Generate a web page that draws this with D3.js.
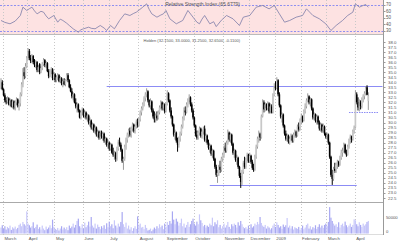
<!DOCTYPE html>
<html><head><meta charset="utf-8">
<script src="https://cdn.jsdelivr.net/npm/d3@7"></script>
<style>body{margin:0;background:#fff}svg{display:block}text{font-family:"Liberation Sans",Arial,sans-serif}</style>
</head><body><svg id="c" width="400" height="241"></svg>
<script>
const opens=[33.5,34.0,33.3,32.7,32.2,32.0,32.4,31.8,32.2,31.6,
32.1,31.5,32.0,32.3,31.7,31.9,32.8,33.8,35.0,34.6,
35.6,36.4,37.1,36.4,36.1,36.6,36.0,35.7,36.0,35.2,
35.8,35.0,35.4,35.8,36.2,35.7,35.9,35.1,34.6,35.1,
35.3,34.4,34.8,34.2,34.5,34.7,34.1,34.4,33.9,34.1,
33.8,34.2,34.7,34.2,33.5,33.1,32.6,32.8,32.0,31.6,
31.8,31.2,30.5,31.0,31.3,30.7,31.0,30.5,30.7,30.0,
30.2,29.5,29.8,29.2,29.5,28.8,29.1,28.5,29.0,28.6,
28.9,28.2,28.4,27.8,28.0,27.4,27.8,27.0,26.8,27.0,
26.4,27.4,28.1,27.8,27.3,26.2,26.4,27.6,28.3,28.8,
29.2,28.8,29.4,29.8,29.2,29.6,30.1,29.7,30.3,31.0,
31.4,31.8,32.4,32.8,33.1,32.2,31.7,32.1,31.2,30.6,
30.3,30.7,30.4,31.0,31.5,32.0,31.4,31.8,31.1,31.8,
32.9,32.2,31.2,30.6,29.8,28.8,29.0,28.2,27.8,28.4,
28.9,29.6,30.4,31.2,31.0,31.8,32.2,32.5,31.8,31.2,
30.5,29.7,28.8,28.5,29.0,29.4,28.7,29.1,29.4,28.3,
28.7,28.0,27.5,27.7,26.9,27.2,26.4,25.6,24.8,25.0,
25.6,25.3,26.4,26.8,27.5,27.2,28.0,29.0,28.3,28.8,
27.9,27.0,27.2,26.3,26.5,25.6,24.7,24.1,25.1,26.0,
25.6,26.3,26.8,26.2,26.7,26.1,25.5,25.3,26.6,27.6,
28.4,28.9,28.5,30.6,32.0,31.3,31.8,31.4,31.9,31.1,
31.6,31.0,32.7,33.6,33.4,34.2,32.8,31.7,30.6,30.8,
29.7,28.9,28.4,28.7,28.1,28.4,28.7,28.2,28.8,29.1,
28.7,29.6,29.3,30.2,30.6,30.2,31.1,31.6,32.2,32.6,
32.0,32.3,31.4,30.5,30.8,30.2,30.6,30.0,29.4,29.8,
29.2,29.6,28.9,28.6,28.8,28.0,26.6,24.8,24.4,25.4,
25.2,25.8,26.1,25.8,26.5,27.0,27.2,27.8,27.0,26.8,
27.6,28.2,28.6,28.3,29.1,29.5,32.8,32.0,31.5,32.0,
31.6,32.3,32.6,32.9,33.5,32.15];
const highs=[34.4,34.2,33.4,32.9,32.5,32.6,32.5,32.4,32.3,32.3,
32.2,32.2,32.5,32.4,32.2,33.0,34.0,35.4,35.5,35.9,
36.6,37.4,37.3,36.7,36.8,36.7,36.3,36.2,36.1,35.7,
35.9,35.6,36.0,36.4,36.3,36.1,36.0,35.3,35.3,35.5,
35.4,35.0,34.9,34.7,34.9,34.8,34.6,34.5,34.3,34.4,
34.3,34.9,34.9,34.3,33.8,33.4,33.0,32.9,32.4,32.0,
31.9,31.3,31.2,31.5,31.4,31.2,31.1,30.9,30.8,30.5,
30.3,30.0,29.9,29.7,29.6,29.3,29.2,29.2,29.2,29.1,
29.0,28.6,28.5,28.3,28.1,28.0,27.9,27.5,27.2,27.1,
27.6,28.3,28.5,28.0,27.4,26.6,27.8,28.5,29.0,29.4,
29.5,29.6,30.0,29.9,29.8,30.3,30.4,30.5,31.2,31.6,
32.0,32.6,33.0,33.4,33.2,32.3,32.4,32.2,31.4,31.1,
30.9,31.1,31.2,31.7,32.2,32.1,32.0,31.9,32.0,33.2,
33.0,32.3,31.5,30.7,29.9,29.3,29.1,28.5,28.6,29.1,
29.8,30.6,31.5,31.6,32.0,32.4,32.8,32.6,32.0,31.4,
30.6,29.8,29.2,29.2,29.6,29.5,29.3,29.6,29.7,28.9,
28.8,28.3,27.9,27.8,27.4,27.3,26.5,25.8,25.3,25.8,
26.2,26.6,27.0,27.7,28.0,28.2,29.3,29.1,29.0,28.9,
28.0,27.4,27.3,26.8,26.6,25.7,25.0,25.3,26.2,26.6,
26.5,27.0,26.9,27.0,26.8,26.3,25.9,26.8,27.8,28.6,
29.2,29.0,30.8,32.3,32.2,32.0,31.9,32.1,32.0,31.9,
31.8,32.9,33.9,34.1,34.5,34.3,33.0,31.8,31.0,30.9,
29.8,29.2,28.9,28.8,28.6,28.9,28.8,29.0,29.3,29.2,
29.8,30.0,30.4,30.9,30.7,31.3,31.9,32.4,32.9,32.7,
32.5,32.4,31.5,31.0,30.9,30.8,30.7,30.2,30.0,29.9,
29.9,29.7,29.0,29.0,28.9,28.1,26.7,25.3,25.6,26.0,
26.0,26.3,26.2,26.7,27.3,27.5,28.0,27.9,27.3,27.8,
28.4,28.8,28.7,29.3,29.7,33.2,33.0,32.5,32.3,32.2,
32.5,32.8,33.1,33.6,33.7,33.0];
const lows=[33.3,33.2,32.6,32.0,31.8,31.9,31.7,31.6,31.5,31.4,
31.3,31.2,31.7,31.5,31.2,31.6,32.6,33.5,34.3,34.4,
35.4,36.2,36.2,35.9,35.9,35.8,35.5,35.4,35.0,35.0,
34.8,34.9,35.2,35.6,35.5,35.4,35.0,34.4,34.5,34.8,
34.2,34.2,34.0,34.0,34.2,34.0,33.9,33.7,33.5,33.7,
33.6,34.1,34.0,33.4,33.0,32.4,32.2,31.9,31.4,31.0,
31.0,30.4,30.3,30.7,30.5,30.4,30.3,30.1,29.8,29.6,
29.3,29.2,29.0,28.9,28.6,28.5,28.3,28.3,28.4,28.2,
28.0,27.8,27.6,27.4,27.2,27.2,26.9,26.6,26.3,26.1,
26.2,27.2,27.6,27.1,26.0,25.3,26.2,27.3,28.0,28.5,
28.6,28.5,29.1,29.0,28.9,29.4,29.5,29.6,30.1,30.7,
31.2,31.6,32.1,32.5,32.0,31.5,31.3,31.0,30.4,30.0,
30.0,30.2,30.3,30.8,31.3,31.2,31.2,30.9,31.0,31.7,
32.0,31.0,30.4,29.6,28.6,28.3,28.0,27.1,27.5,28.1,
28.7,29.4,30.2,30.7,30.9,31.5,32.0,31.6,31.0,30.3,
29.5,28.6,28.3,28.3,28.7,28.5,28.4,28.8,28.1,28.0,
27.8,27.3,27.0,26.7,26.5,26.2,25.4,24.6,24.0,24.7,
25.0,25.1,26.1,26.5,27.0,27.0,27.8,28.1,28.0,27.7,
26.8,26.5,26.1,25.8,25.4,24.5,23.5,23.8,24.9,25.4,
25.4,26.0,26.0,26.0,25.9,25.3,25.1,25.2,26.4,27.4,
28.0,28.2,28.4,30.5,31.0,31.1,31.2,31.2,30.9,30.9,
30.9,30.9,32.6,33.2,33.3,32.6,31.5,30.4,30.0,29.5,
28.7,28.2,28.1,27.9,27.8,28.2,28.0,28.0,28.5,28.5,
28.6,29.1,29.2,29.8,30.0,30.1,30.9,31.4,32.0,31.8,
31.6,31.2,30.3,30.2,30.0,29.8,29.8,29.2,29.1,29.0,
29.0,28.7,28.4,28.3,27.8,26.4,24.6,23.8,24.2,25.0,
25.0,25.4,25.6,25.7,26.3,26.6,27.0,26.9,26.6,26.7,
27.4,27.9,28.0,28.2,28.9,29.4,31.8,31.2,31.1,31.3,
31.4,32.0,32.3,32.7,32.7,31.25];
const closes=[34.0,33.3,32.7,32.2,32.0,32.4,31.8,32.2,31.6,32.1,
31.5,32.0,32.3,31.7,31.9,32.8,33.8,35.0,34.6,35.6,
36.4,37.1,36.4,36.1,36.6,36.0,35.7,36.0,35.2,35.5,
35.0,35.4,35.8,36.2,35.7,35.9,35.1,34.6,35.1,35.3,
34.4,34.8,34.2,34.5,34.7,34.1,34.4,33.9,34.1,33.8,
34.2,34.7,34.2,33.5,33.1,32.6,32.8,32.0,31.6,31.8,
31.2,30.5,31.0,31.3,30.7,31.0,30.5,30.7,30.0,30.2,
29.5,29.8,29.2,29.5,28.8,29.1,28.5,29.0,28.6,28.9,
28.2,28.4,27.8,28.0,27.4,27.8,27.0,26.8,27.0,26.4,
27.4,28.1,27.8,27.3,26.2,26.4,27.6,28.3,28.8,29.2,
28.8,29.4,29.8,29.2,29.6,30.1,29.7,30.3,31.0,31.4,
31.8,32.4,32.8,33.1,32.2,31.7,32.1,31.2,30.6,30.3,
30.7,30.4,31.0,31.5,32.0,31.4,31.8,31.1,31.8,32.9,
32.2,31.2,30.6,29.8,28.8,29.0,28.2,27.8,28.4,28.9,
29.6,30.4,31.2,31.0,31.8,32.2,32.5,31.8,31.2,30.5,
29.7,28.8,28.5,29.0,29.4,28.7,29.1,29.4,28.3,28.7,
28.0,27.5,27.7,26.9,27.2,26.4,25.6,24.8,25.0,25.6,
25.3,26.4,26.8,27.5,27.2,28.0,29.0,28.3,28.8,27.9,
27.0,27.2,26.3,26.5,25.6,24.7,24.1,25.1,26.0,25.6,
26.3,26.8,26.2,26.7,26.1,25.5,25.3,26.6,27.6,28.4,
28.9,28.5,30.6,32.0,31.3,31.8,31.4,31.9,31.1,31.6,
31.0,32.7,33.6,33.4,34.2,32.8,31.7,30.6,30.8,29.7,
28.9,28.4,28.7,28.1,28.4,28.7,28.2,28.8,29.1,28.7,
29.6,29.3,30.2,30.6,30.2,31.1,31.6,32.2,32.6,32.0,
32.3,31.4,30.5,30.8,30.2,30.6,30.0,29.4,29.8,29.2,
29.6,28.9,28.6,28.8,28.0,26.6,24.8,24.4,25.4,25.2,
25.8,26.1,25.8,26.5,27.0,27.2,27.8,27.0,26.8,27.6,
28.2,28.6,28.3,29.1,29.5,32.8,32.0,31.5,32.0,31.6,
32.3,32.6,32.9,33.4,32.76,32.65];
const volumes=[18,25,14,22,12,20,16,24,11,19,
15,21,13,17,26,30,22,35,28,24,
67,30,25,18,22,34,16,20,27,14,
19,12,24,15,10,21,13,18,25,16,
42,20,14,11,17,9,15,22,12,18,
13,19,10,24,16,21,30,18,26,38,
45,22,17,28,15,33,19,25,36,21,
50,24,18,30,15,27,20,13,22,17,
25,14,31,19,36,22,28,16,40,24,
18,30,21,35,65,28,20,33,15,24,
12,19,8,16,22,14,52,25,30,18,
20,13,26,17,9,11,15,7,12,18,
14,22,16,28,19,24,13,30,20,35,
26,38,30,67,42,28,45,36,24,32,
45,22,30,18,26,35,20,28,38,45,
30,24,36,28,58,40,32,22,26,18,
24,20,30,25,48,22,34,28,40,19,
26,15,22,30,18,25,35,20,14,28,
22,30,26,18,34,24,38,28,20,16,
19,14,24,12,28,18,22,30,26,35,
28,50,32,24,20,26,15,22,18,12,
16,24,30,20,34,26,18,22,14,27,
20,25,47,18,24,15,22,12,19,16,
14,20,11,17,24,13,18,26,30,15,
22,12,19,16,25,14,20,28,18,24,
17,26,30,22,35,80,48,38,30,24,
28,20,34,18,26,30,22,36,25,19,
24,30,20,26,43,40,28,22,34,26,
20,30,24,28,35,38];
const rsiIdx=[0,3,7,11,15,17,20,22,24,26,28,31,33,35,37,41,44,46,48,51,53,56,60,62,64,68,70,73,77,80,82,85,88,92,96,100,103,105,110,113,115,117,121,124,126,128,131,136,141,145,149,152,154,156,158,162,165,167,171,175,180,185,188,193,198,203,208,212,216,220,224,229,234,237,240,242,247,252,256,260,265,269,273,275,278,281,283,285];
const rsiVal=[45.4,42.5,40.3,44.4,53.1,65.9,60.8,63.5,65.9,60.2,55.6,59.5,58.2,52.4,48,53.1,42.8,47.5,45.4,41.2,37.7,32.6,27.4,31.2,32.6,35.1,33.4,32.6,37.7,33.8,30,37.7,32.6,45.4,55.6,53.1,56.4,58.2,65.9,71,62.5,55.6,50.5,53.8,55.6,60.8,48,40.3,45.4,60.8,50.5,42.8,40.3,47.6,53.1,40.3,43.5,36,45.8,53.1,48,37.7,50.5,53.1,65.9,68.5,63.3,68.5,55.6,42.8,45.4,50.5,53.1,63.3,57.2,53.1,48,40.3,30,37.7,45.4,53.1,58.2,71,65.9,68.5,70,65.7];
const monthLabels=["March","April","May","June","July","August","September","October","November","December","2009","February","March","April"];
const monthIdx=[2,21,42,64,84,107,128,150,173,193,213,233,253,275];
const priceTicks=[22.5,23.0,23.5,24.0,24.5,25.0,25.5,26.0,26.5,27.0,27.5,28.0,28.5,29.0,29.5,30.0,30.5,31.0,31.5,32.0,32.5,33.0,33.5,34.0,34.5,35.0,35.5,36.0,36.5,37.0,37.5,38.0];
const rsiTicks=[30,40,50,60,70];
const rsiBands=[30,70];
const volTicks=[0,50000];
const levelPrice=[33.6,23.8,31.05];
const levelStart=[82,162,270];
const levelEnd=[296,276,293];
const priceTitle="Holden (32.1500, 33.0000, 31.2500, 32.6500, -0.1100)";
const rsiTitle="Relative Strength Index (65.6779)";

const svg=d3.select("#c");
const AX=383.5;
const x=d3.scaleLinear().domain([0,296]).range([1,382.5]);
const yP=d3.scaleLinear().domain([22.5,38]).range([198,42]);
const yR=d3.scaleLinear().domain([30,70]).range([30.5,4.5]);
const yV=d3.scaleLinear().domain([0,50000]).range([233.5,217]);

svg.append("rect").attr("x",0).attr("y",0).attr("width",AX).attr("height",34).attr("fill","#fde2e2");
svg.append("line").attr("x1",0).attr("x2",AX).attr("y1",34.5).attr("y2",34.5).attr("stroke","#bbb");
svg.append("line").attr("x1",0).attr("x2",AX).attr("y1",202.5).attr("y2",202.5).attr("stroke","#aaa");
svg.append("line").attr("x1",0).attr("x2",AX).attr("y1",234.5).attr("y2",234.5).attr("stroke","#ddd");

svg.append("g").selectAll("line").data(monthIdx).join("line")
  .attr("x1",d=>Math.round(x(d)-0.65)+0.5).attr("x2",d=>Math.round(x(d)-0.65)+0.5)
  .attr("y1",0).attr("y2",235).attr("stroke","#c8c8c8").attr("stroke-dasharray","1,2");
svg.append("g").selectAll("text").data(monthIdx).join("text")
  .attr("x",(d)=>x(d)+0.8).attr("y",240).attr("font-size",4.3).attr("fill","#555")
  .text((d,i)=>monthLabels[i]);

svg.append("g").selectAll("line").data(rsiBands).join("line")
  .attr("x1",0).attr("x2",AX).attr("y1",d=>Math.round(yR(d))+0.5).attr("y2",d=>Math.round(yR(d))+0.5)
  .attr("stroke","#8f8ff0").attr("stroke-dasharray","2,1.5");
svg.append("path").datum(rsiIdx.map((d,i)=>[x(d),yR(rsiVal[i])]))
  .attr("d",d3.line()).attr("fill","none").attr("stroke","#7c7ca8").attr("stroke-width",0.8);
svg.append("text").attr("x",240).attr("y",6).attr("text-anchor","end").attr("font-size",5).attr("fill","#555").text(rsiTitle);
svg.append("g").selectAll("text").data(rsiTicks).join("text")
  .attr("x",386).attr("y",d=>yR(d)+1.6).attr("font-size",4.5).attr("fill","#555").text(d=>d);

svg.append("text").attr("x",240).attr("y",41.5).attr("text-anchor","end").attr("font-size",4).attr("fill","#555").text(priceTitle);

svg.append("g").selectAll("line").data(levelPrice).join("line")
  .attr("x1",(d,i)=>x(levelStart[i])).attr("x2",(d,i)=>x(levelEnd[i]))
  .attr("y1",d=>Math.round(yP(d))+0.5).attr("y2",d=>Math.round(yP(d))+0.5)
  .attr("stroke","#8c8cf5").attr("stroke-dasharray",(d,i)=>i===2?"1.5,1":null);

const idx=d3.range(closes.length);
const cx=i=>x(i);
const up=i=>closes[i]>=opens[i];
const cg=svg.append("g");
cg.selectAll("line").data(idx).join("line")
  .attr("x1",cx).attr("x2",cx).attr("y1",i=>yP(highs[i])).attr("y2",i=>yP(lows[i]))
  .attr("stroke",i=>up(i)?"#999":"#000").attr("stroke-width",1);
cg.selectAll("rect").data(idx).join("rect")
  .attr("x",i=>cx(i)-0.8).attr("width",1.6)
  .attr("y",i=>yP(Math.max(opens[i],closes[i])))
  .attr("height",i=>Math.max(1,Math.abs(yP(opens[i])-yP(closes[i]))))
  .attr("fill",i=>up(i)?"#c8c8c8":"#000");

svg.append("g").selectAll("rect").data(idx).join("rect")
  .attr("x",i=>cx(i)-0.6).attr("width",1.2)
  .attr("y",i=>yV(volumes[i]*1000)).attr("height",i=>yV(0)-yV(volumes[i]*1000))
  .attr("fill",i=>up(i)?"#c8c8fa":"#a8a8f2");
svg.append("g").selectAll("text").data(volTicks).join("text")
  .attr("x",386).attr("y",d=>yV(d)+(d===0?-1:1.6)).attr("font-size",4.2).attr("fill","#555").text(d=>d);

svg.append("line").attr("x1",AX).attr("x2",AX).attr("y1",0).attr("y2",235).attr("stroke","#999");
const ag=svg.append("g");
ag.selectAll("line").data(priceTicks).join("line")
  .attr("x1",AX).attr("x2",AX+2).attr("y1",d=>Math.round(yP(d))+0.5).attr("y2",d=>Math.round(yP(d))+0.5).attr("stroke","#999");
ag.selectAll("text").data(priceTicks).join("text")
  .attr("x",388).attr("y",d=>yP(d)+1.5).attr("font-size",4.3).attr("fill","#555").text(d=>d.toFixed(1));
svg.append("g").selectAll("line").data(rsiTicks).join("line")
  .attr("x1",AX).attr("x2",AX+2).attr("y1",d=>Math.round(yR(d))+0.5).attr("y2",d=>Math.round(yR(d))+0.5).attr("stroke","#999");
</script></body></html>
